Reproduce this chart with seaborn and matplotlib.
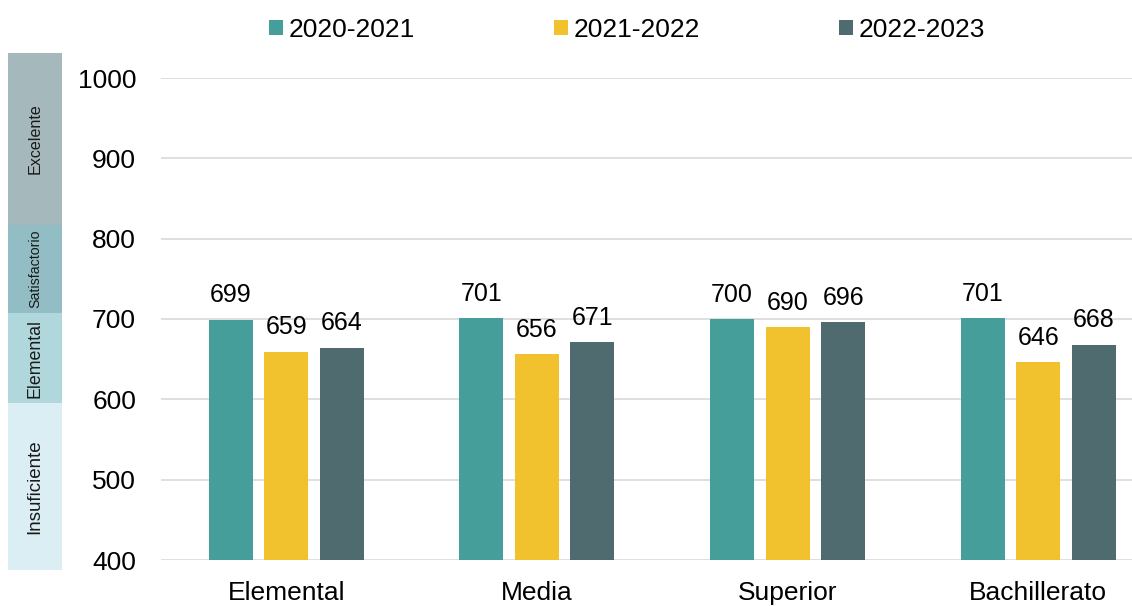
import pandas as pd
import matplotlib
matplotlib.use("Agg")
import matplotlib.pyplot as plt
import seaborn as sns

# Data
niveles = ["Elemental", "Media", "Superior", "Bachillerato"]
ciclos = ["2020-2021", "2021-2022", "2022-2023"]
puntaje_2020 = [699, 701, 700, 701]
puntaje_2021 = [659, 656, 690, 646]
puntaje_2022 = [664, 671, 696, 668]
colores = ["#459E9A", "#F2C12E", "#4F6B70"]

# Bandas de desempeño (lado izquierdo)
bandas = ["Insuficiente", "Elemental", "Satisfactorio", "Excelente"]
banda_desde = [388, 595, 707, 817]
banda_hasta = [595, 707, 817, 1031]
banda_colores = ["#DAEEF4", "#B0D7DC", "#93BDC5", "#A5B9BD"]
banda_tam = [13.5, 12.8, 10.2, 11.6]

sns.set_style("white")
plt.rcParams["font.family"] = ["Liberation Sans", "DejaVu Sans"]
plt.rcParams["text.color"] = "black"
plt.rcParams["xtick.color"] = "black"
plt.rcParams["ytick.color"] = "black"

# long table for seaborn
rows = []
for serie, vals in zip(ciclos, [puntaje_2020, puntaje_2021, puntaje_2022]):
    for nivel, v in zip(niveles, vals):
        rows.append({"nivel": nivel, "ciclo": serie, "puntaje": v})
df = pd.DataFrame(rows)

W, H = 1132, 606
fig = plt.figure(figsize=(W / 100, H / 100), dpi=100)
ax = fig.add_axes([161 / W, 1 - 560 / H, (W - 161) / W, 482 / H])

sns.barplot(data=df, x="nivel", y="puntaje", hue="ciclo", order=niveles,
            hue_order=ciclos, palette=dict(zip(ciclos, colores)),
            saturation=1, width=0.664, gap=0.207, linewidth=0, ax=ax)

ax.set_ylim(400, 1000)
ax.set_xlim(-0.5, 3.374)
ax.set_yticks(range(400, 1001, 100))
ax.grid(axis="y", color="#D9D9D9", linewidth=1.2)
ax.set_axisbelow(True)
for s in ax.spines.values():
    s.set_visible(False)
ax.tick_params(axis="y", length=0, pad=18, labelsize=19, labelcolor="black")
ax.tick_params(axis="x", length=0, pad=15, labelsize=19, labelcolor="black")
ax.set_xlabel("")
ax.set_ylabel("")

for cont in ax.containers:
    ax.bar_label(cont, fmt="%d", padding=9, fontsize=18, color="black")

# legend on top
sns.move_legend(ax, "center", bbox_to_anchor=(627 / W, 1 - 30 / H),
                bbox_transform=fig.transFigure, ncol=3, frameon=False,
                title=None, fontsize=19, handlelength=0.53, handleheight=0.49,
                handletextpad=0.23, columnspacing=5.25)
for t in ax.get_legend().get_texts():
    t.set_color("black")

# bandas
ax2 = fig.add_axes([8 / W, 1 - 560 / H, 54 / W, 482 / H])
ax2.set_ylim(400, 1000)
ax2.set_xlim(-0.5, 0.5)
ax2.axis("off")
for lab, lo, hi, c, fs in zip(bandas, banda_desde, banda_hasta, banda_colores, banda_tam):
    ax2.bar(0, hi - lo, bottom=lo, width=1, color=c, linewidth=0, clip_on=False)
    ax2.text(0, (lo + hi) / 2, lab, rotation=90, ha="center", va="center",
             fontsize=fs, color="#1a1a1a", clip_on=False)

plt.savefig("out.png", dpi=100)
